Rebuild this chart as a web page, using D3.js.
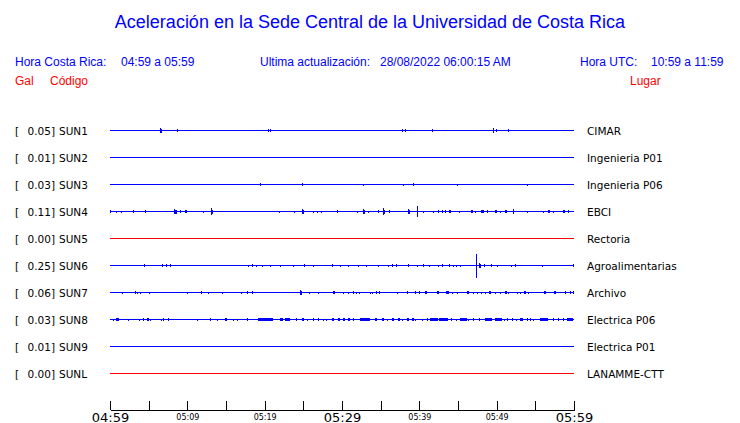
<!DOCTYPE html>
<html>
<head>
<meta charset="utf-8">
<script src="https://cdn.jsdelivr.net/npm/d3@7"></script>
<style>
  body { margin: 0; background: #fff; }
  svg { display: block; }
</style>
</head>
<body>
<div id="chart"></div>
<script>
// stations, top to bottom
var codes = ["SUN1", "SUN2", "SUN3", "SUN4", "SUN5", "SUN6", "SUN7", "SUN8", "SUN9", "SUNL"];
var peaks = [0.05, 0.01, 0.03, 0.11, 0.00, 0.25, 0.06, 0.03, 0.01, 0.00];
var places = ["CIMAR", "Ingenieria P01", "Ingenieria P06", "EBCI", "Rectoria",
              "Agroalimentarias", "Archivo", "Electrica P06", "Electrica P01", "LANAMME-CTT"];

// bursts per station: [minutes after 04:59, amplitude (Gal), duration (s)]
var sun1 = [[6.47,0.05,15],[8.66,0.03,0],[20.43,0.03,0],[20.69,0.03,0],[37.76,0.035,0],[38.15,0.03,0],
            [41.64,0.03,0],[49.53,0.05,10],[49.92,0.03,0],[51.47,0.03,0]];
var sun2 = [];
var sun3 = [[19.40,0.03,8],[24.83,0.03,0],[32.72,0.02,0],[37.89,0.02,0],[39.18,0.03,0],[44.87,0.02,0],[53.92,0.02,0]];
var sun4 = [[0,0.03,0],[0.78,0.02,0],[1.42,0.02,0],[2.97,0.04,8],[4.53,0.04,8],[8.28,0.05,20],[9.05,0.04,8],
            [9.70,0.04,15],[12.03,0.02,0],[13.06,0.08,15],[21.85,0.02,0],[23.79,0.02,0],[24.83,0.06,15],
            [26.25,0.02,0],[26.77,0.02,0],[27.29,0.02,0],[29.35,0.04,8],[31.94,0.02,0],[32.72,0.06,12],
            [33.36,0.02,0],[34.66,0.04,10],[35.30,0.08,15],[36.08,0.03,0],[38.54,0.05,15],[39.70,0.11,8],
            [40.48,0.02,0],[41.77,0.02,0],[42.42,0.04,8],[42.93,0.03,0],[43.32,0.03,0],[43.84,0.04,12],
            [45.13,0.02,0],[46.68,0.04,15],[47.20,0.02,0],[47.98,0.04,25],[48.24,0.03,0],[48.75,0.03,0],
            [49.79,0.04,12],[50.43,0.02,0],[51.08,0.04,12],[52.11,0.06,10],[53.92,0.02,0],[55.99,0.02,0],
            [56.64,0.04,12],[57.29,0.02,0],[58.58,0.04,12],[59.23,0.03,0]];
var sun5 = [];
var sun6 = [[4.40,0.03,8],[6.72,0.03,10],[7.24,0.03,0],[7.76,0.03,0],[17.85,0.02,0],[18.36,0.03,8],
            [18.88,0.02,0],[19.66,0.02,0],[20.69,0.02,0],[21.98,0.02,0],[23.66,0.02,0],[25.09,0.03,8],
            [26.25,0.02,0],[28.71,0.03,10],[29.74,0.02,0],[30.78,0.02,0],[32.07,0.02,0],[33.10,0.02,0],
            [34.66,0.02,0],[35.95,0.02,0],[36.47,0.04,10],[36.98,0.03,0],[38.54,0.03,8],[39.70,0.02,0],
            [40.48,0.04,10],[41.25,0.02,0],[42.42,0.02,0],[42.93,0.03,0],[43.84,0.03,8],[44.35,0.02,0],
            [44.74,0.02,0],[45.26,0.02,0],[47.33,0.25,10],[47.72,0.05,12],[48.36,0.03,0],[49.27,0.03,8],
            [50.05,0.02,0],[51.86,0.02,0],[52.37,0.03,8],[55.86,0.02,0],[59.9,0.04,3]];
var sun7 = [[1.55,0.02,0],[3.23,0.03,0],[3.49,0.02,0],[3.88,0.02,0],[5.04,0.02,0],[9.96,0.02,0],
            [11.77,0.03,8],[12.67,0.02,0],[14.48,0.02,0],[16.94,0.02,0],[17.72,0.03,0],[18.36,0.03,8],
            [24.57,0.06,15],[25.73,0.02,0],[26.90,0.02,0],[28.84,0.04,15],[30.13,0.02,0],[30.78,0.02,0],
            [31.42,0.03,0],[31.81,0.02,0],[32.20,0.02,0],[33.62,0.02,0],[33.88,0.02,0],[34.40,0.03,8],
            [34.79,0.03,8],[37.11,0.02,0],[38.41,0.03,8],[39.44,0.03,8],[39.96,0.03,0],[40.73,0.03,12],
            [42.29,0.03,15],[43.45,0.03,20],[44.23,0.02,0],[44.87,0.02,0],[46.16,0.03,15],[46.94,0.02,0],
            [47.46,0.02,0],[47.98,0.02,0],[48.49,0.02,0],[49.01,0.03,15],[49.79,0.02,0],[50.43,0.02,0],
            [51.08,0.03,15],[51.47,0.02,0],[52.63,0.02,0],[53.02,0.02,0],[53.53,0.03,15],[54.05,0.02,0],
            [56.12,0.03,15],[57.42,0.03,15],[58.84,0.04,10],[59.49,0.03,0],[59.87,0.03,0]];
var sun8 = [[0.39,0.02,10],[0.78,0.03,25],[2.33,0.02,0],[3.75,0.02,0],[4.27,0.03,10],[4.78,0.03,15],
            [5.17,0.02,0],[6.60,0.02,0],[6.85,0.03,10],[7.50,0.03,10],[11.25,0.02,0],[12.93,0.03,8],
            [13.84,0.02,0],[14.87,0.03,15],[15.91,0.02,0],[16.42,0.02,0],[17.72,0.03,8],[19.14,0.03,115],
            [21.98,0.03,20],[22.63,0.03,40],[24.05,0.03,10],[24.83,0.03,15],[25.47,0.02,0],[26.25,0.03,10],
            [26.90,0.03,10],[27.54,0.02,0],[27.93,0.02,0],[28.71,0.03,12],[29.48,0.03,15],[30.13,0.03,15],
            [30.78,0.03,15],[31.42,0.03,10],[32.33,0.03,80],[34.27,0.03,12],[35.17,0.03,12],[35.82,0.02,0],
            [36.47,0.03,15],[37.24,0.03,15],[37.76,0.02,0],[38.41,0.03,15],[39.05,0.03,15],[39.44,0.02,0],
            [40.35,0.02,0],[40.99,0.03,10],[41.38,0.03,60],[42.55,0.03,70],[44.10,0.03,0],[44.74,0.02,0],
            [45.26,0.03,55],[46.29,0.02,0],[46.94,0.03,0],[47.72,0.03,10],[48.49,0.03,55],[49.79,0.03,55],
            [50.95,0.02,0],[51.34,0.03,0],[51.99,0.03,10],[52.50,0.02,0],[53.02,0.03,25],[53.92,0.03,0],
            [54.31,0.03,0],[54.70,0.02,0],[55.61,0.03,60],[57.29,0.03,0],[57.93,0.03,0],[58.58,0.03,10],
            [59.10,0.03,45]];
var sun9 = [];
var sunl = [];
var bursts = [sun1, sun2, sun3, sun4, sun5, sun6, sun7, sun8, sun9, sunl];

// time axis, one tick every 5 minutes
var tickMinutes = [0, 5, 10, 15, 20, 25, 30, 35, 40, 45, 50, 55, 60];
var tickLabels = ["04:59", "", "05:09", "", "05:19", "", "05:29", "", "05:39", "", "05:49", "", "05:59"];
var bigLabels = ["04:59", "05:29", "05:59"];

var blue = "#0000ff", red = "#ff0000";

var svg = d3.select("#chart").append("svg")
    .attr("width", 740)
    .attr("height", 423);

// header
svg.append("text")
    .attr("x", 370).attr("y", 28)
    .attr("text-anchor", "middle")
    .attr("fill", blue)
    .style("font", "18px 'Liberation Sans', Arial, sans-serif")
    .text("Aceleración en la Sede Central de la Universidad de Costa Rica");

var header = [
  {x: 15,  y: 66, c: blue, t: "Hora Costa Rica:"},
  {x: 121, y: 66, c: blue, t: "04:59 a 05:59"},
  {x: 260, y: 66, c: blue, t: "Ultima actualización:"},
  {x: 380, y: 66, c: blue, t: "28/08/2022 06:00:15 AM"},
  {x: 580, y: 66, c: blue, t: "Hora UTC:"},
  {x: 651, y: 66, c: blue, t: "10:59 a 11:59"},
  {x: 15,  y: 85, c: red,  t: "Gal"},
  {x: 50,  y: 85, c: red,  t: "Código"},
  {x: 630, y: 85, c: red,  t: "Lugar"}
];
svg.selectAll("text.head")
  .data(header)
  .join("text")
    .attr("class", "head")
    .attr("x", function(d) { return d.x; })
    .attr("y", function(d) { return d.y; })
    .attr("fill", function(d) { return d.c; })
    .style("font", "12px 'Liberation Sans', Arial, sans-serif")
    .text(function(d) { return d.t; });

// scales
var x = d3.scaleLinear().domain([0, 60]).range([110, 574]);
var y = d3.scalePoint().domain(codes).range([130, 373]);
var amp = d3.scaleLinear().domain([0, 0.25]).range([0, 12]);

var rows = svg.selectAll("g.row")
  .data(codes)
  .join("g")
    .attr("class", "row")
    .attr("transform", function(d) { return "translate(0," + (y(d) + 0.5) + ")"; });

var labelFont = "10.5px 'DejaVu Sans', sans-serif";

rows.append("text")
    .attr("x", 15).attr("y", 4)
    .style("font", labelFont)
    .text("[");
rows.append("text")
    .attr("x", 55).attr("y", 4)
    .attr("text-anchor", "end")
    .style("font", labelFont)
    .text(function(d, i) { return peaks[i].toFixed(2) + "]"; });
rows.append("text")
    .attr("x", 59).attr("y", 4)
    .style("font", labelFont)
    .text(function(d) { return d; });
rows.append("text")
    .attr("x", 587).attr("y", 4)
    .style("font", labelFont)
    .text(function(d, i) { return places[i]; });

function colour(i) { return peaks[i] === 0 ? red : blue; }

// baseline of each trace
rows.append("line")
    .attr("x1", x(0)).attr("x2", x(60))
    .attr("stroke", function(d, i) { return colour(i); })
    .attr("stroke-width", 1)
    .attr("shape-rendering", "crispEdges");

// bursts: a filled block for the duration plus a spike for the peak
rows.each(function(code, i) {
  var g = d3.select(this);
  g.selectAll("rect")
    .data(bursts[i].filter(function(b) { return b[2] > 0; }))
    .join("rect")
      .attr("x", function(b) { return x(b[0]); })
      .attr("width", function(b) { return Math.max(1, x(b[0] + b[2] / 60) - x(b[0])); })
      .attr("y", function(b) { return -Math.min(amp(b[1]), 2); })
      .attr("height", function(b) { return 2 * Math.min(amp(b[1]), 2); })
      .attr("fill", colour(i))
      .attr("shape-rendering", "crispEdges");
  g.selectAll("line.spike")
    .data(bursts[i])
    .join("line")
      .attr("class", "spike")
      .attr("x1", function(b) { return Math.round(x(b[0])) + 0.5; })
      .attr("x2", function(b) { return Math.round(x(b[0])) + 0.5; })
      .attr("y1", function(b) { return -Math.max(1, amp(b[1])); })
      .attr("y2", function(b) { return Math.max(1, amp(b[1])); })
      .attr("stroke", colour(i))
      .attr("stroke-width", 1)
      .attr("shape-rendering", "crispEdges");
});

// time axis
var axis = svg.append("g")
    .attr("transform", "translate(0,409.5)")
    .call(d3.axisBottom(x)
      .tickValues(tickMinutes)
      .tickSize(-9)
      .tickSizeOuter(0)
      .tickFormat(function(d, i) { return tickLabels[i]; }));

axis.select(".domain").attr("stroke", "#000").attr("shape-rendering", "crispEdges");
axis.selectAll(".tick line").attr("stroke", "#000").attr("shape-rendering", "crispEdges");
axis.selectAll(".tick text")
    .attr("fill", "#000")
    .attr("dy", null)
    .attr("y", function(d, i) { return bigLabels.indexOf(tickLabels[i]) >= 0 ? 12 : 10; })
    .style("font-family", "'DejaVu Sans', sans-serif")
    .style("font-size", function(d, i) { return bigLabels.indexOf(tickLabels[i]) >= 0 ? "13px" : "8px"; });
</script>
</body>
</html>
